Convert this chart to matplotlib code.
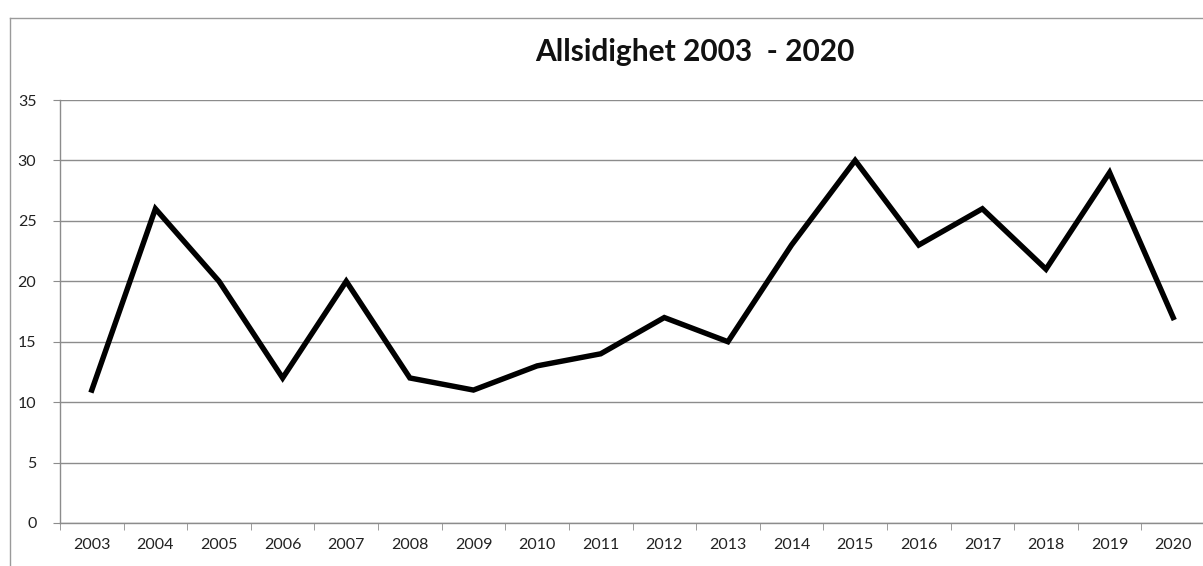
import matplotlib
matplotlib.use("Agg")
import matplotlib.pyplot as plt
from matplotlib.lines import Line2D

years = ["2003", "2004", "2005", "2006", "2007", "2008", "2009", "2010", "2011",
         "2012", "2013", "2014", "2015", "2016", "2017", "2018", "2019", "2020"]
values = [11, 26, 20, 12, 20, 12, 11, 13, 14, 17, 15, 23, 30, 23, 26, 21, 29, 17]
yticks = [0, 5, 10, 15, 20, 25, 30, 35]
title = "Allsidighet 2003  - 2020"

plt.rcParams['font.family'] = ['Lato', 'DejaVu Sans']

W, H = 1203, 566
fig = plt.figure(figsize=(W / 100, H / 100), dpi=100)
ax = fig.add_axes([60 / W, 1 - 523 / H, (1205 - 60) / W, (523 - 100) / H])

x = list(range(len(years)))
ax.plot(x, values, color="black", linewidth=3.9, solid_joinstyle="miter", clip_on=False)

ax.set_xlim(-0.5, len(years) - 0.5)
ax.set_ylim(0, 35)
ax.set_yticks(yticks)
ax.set_yticklabels([str(v) for v in yticks], fontsize=11.5, color="#222222")
ax.set_xticks(x)
ax.set_xticklabels(years, fontsize=11.5, color="#222222")
ax.set_xticks([i - 0.5 for i in range(len(years) + 1)], minor=True)

ax.grid(axis="y", color="#8c8c8c", linewidth=1.0)
ax.set_axisbelow(True)
for s in ["top", "right"]:
    ax.spines[s].set_visible(False)
for s in ["left", "bottom"]:
    ax.spines[s].set_color("#8c8c8c")
    ax.spines[s].set_linewidth(1.0)

ax.tick_params(axis="y", length=5, color="#8c8c8c", pad=12)
ax.tick_params(axis="x", which="major", length=0, pad=11)
ax.tick_params(axis="x", which="minor", length=5, color="#8c8c8c")

fig.text(695 / W, 1 - 52 / H, title, ha="center", va="center",
         fontsize=21.5, fontweight="bold", color="#111111")

# outer chart frame
fig.add_artist(Line2D([10 / W, 1], [1 - 18 / H, 1 - 18 / H], transform=fig.transFigure,
                      color="#9a9a9a", linewidth=1.0))
fig.add_artist(Line2D([10 / W, 10 / W], [0, 1 - 18 / H], transform=fig.transFigure,
                      color="#9a9a9a", linewidth=1.0))

fig.savefig("out.png", dpi=100)
